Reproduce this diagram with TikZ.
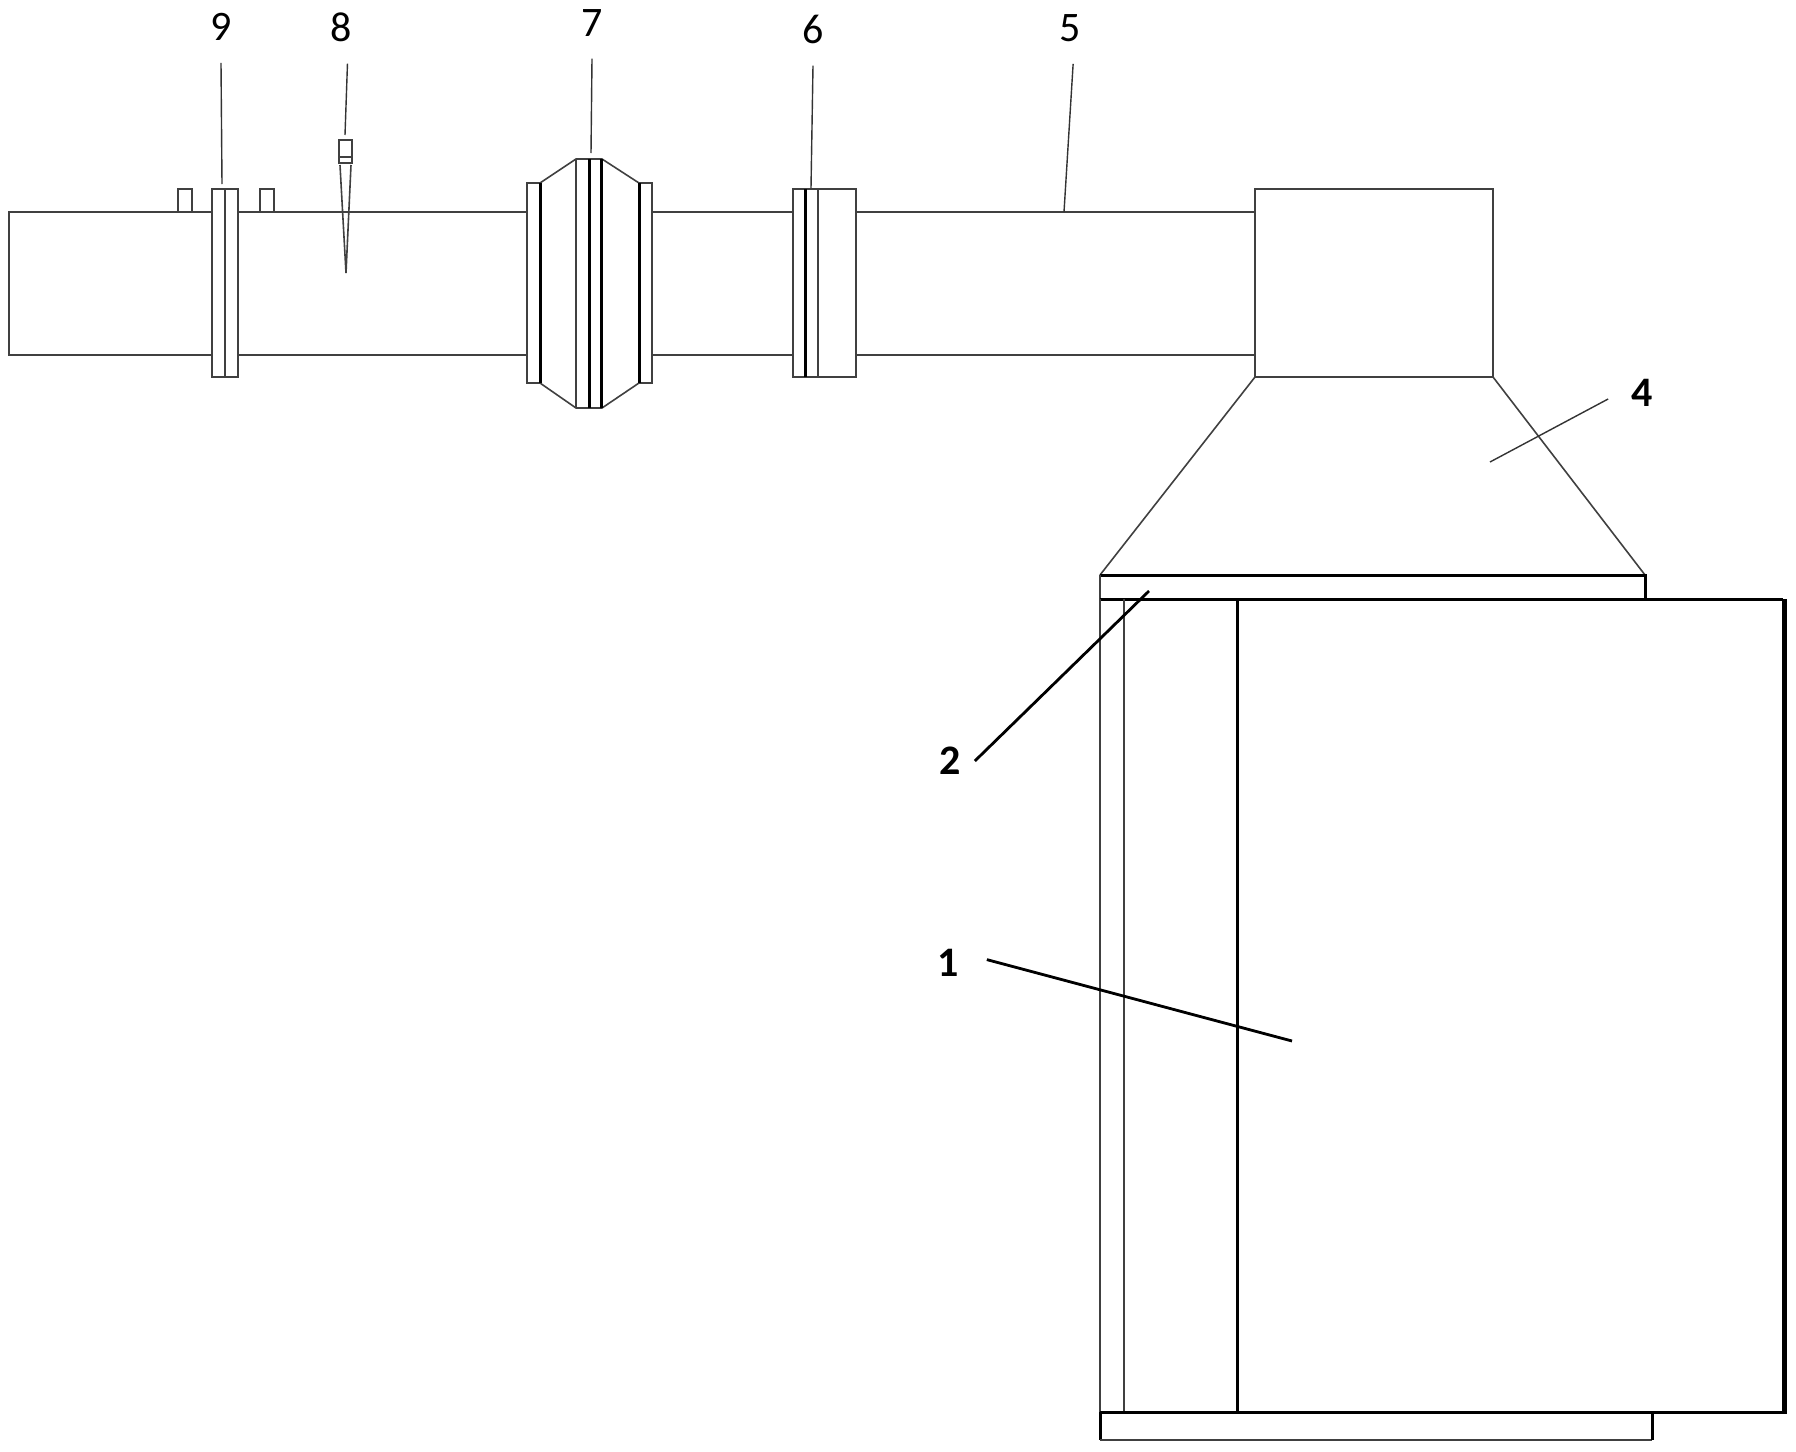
\documentclass[tikz,border=0pt]{standalone}
\usepackage{fontspec}
\setmainfont{Carlito}
\usetikzlibrary{positioning}
\tikzset{
  part/.style={line width=1.6pt,draw=black!75},
  heavy/.style={line width=3pt},
  lead/.style={line width=1.4pt,draw=black!80},
  leadheavy/.style={line width=2.8pt},
  lab/.style={font=\fontsize{42}{42}\selectfont, inner xsep=14pt, inner ysep=22pt},
  labbold/.style={lab,font=\fontsize{42}{42}\selectfont\bfseries}
}
\begin{document}
\begin{tikzpicture}[x=1pt,y=-1pt]
    \useasboundingbox (0,0) rectangle (1796,1451);

    % the pipe
    \draw[part] (1255,212) -- (9,212) -- (9,355) -- (1255,355);

    % flange 9 and the two lugs
    \draw[part,fill=white] (178,212) rectangle (192,189);
    \draw[part,fill=white] (260,212) rectangle (274,189);
    \draw[part,fill=white] (212,189) rectangle (238,377);
    \draw[part] (225,189) -- (225,377);

    % sensor 8
    \draw[part] (339,140) rectangle (352,163);
    \draw[part] (339,157) -- (352,157);
    \draw[part] (340,165) -- (346,273) -- (351,165);

    % coupling 7
    \draw[part,fill=white] (527,183) rectangle (652,383);
    \draw[part,fill=white] (540,183) -- (576,159) -- (602,159) -- (639,183)
      -- (639,383) -- (602,408) -- (576,408) -- (540,383) -- cycle;
    \draw[heavy] (540,183) -- (540,383);
    \draw[heavy] (639,183) -- (639,383);
    \draw[part] (576,159) -- (576,408);
    \draw[heavy] (589,159) -- (589,408);
    \draw[heavy] (601,159) -- (601,408);

    % flange 6
    \draw[part,fill=white] (793,189) rectangle (856,377);
    \draw[heavy] (805,189) -- (805,377);
    \draw[part] (818,189) -- (818,377);

    % box and hood
    \draw[part,fill=white] (1255,189) rectangle (1493,377);
    \draw[part] (1255,377) -- (1100,575);
    \draw[part] (1493,377) -- (1645,575);

    % the body
    \draw[heavy] (1100,575) -- (1645,575) -- (1645,599);
    \draw[part] (1100,575) -- (1100,599);
    \draw[heavy] (1100,599) -- (1783,599);
    \draw[part] (1100,599) -- (1100,1412);
    \draw[part] (1124,599) -- (1124,1412);
    \draw[heavy] (1237,599) -- (1237,1412);
    \draw[line width=5pt] (1784.5,599) -- (1784.5,1414);
    \draw[heavy] (1100,1412) -- (1784,1412);
    \draw[heavy] (1100,1412) -- (1100,1440);
    \draw[part] (1100,1440) -- (1652,1440);
    \draw[heavy] (1652,1412) -- (1652,1440);

    % the labels and their leaders
    \node[lab] (lab9) at (221,27) {9};
    \node[lab] (lab8) at (341,27) {8};
    \node[lab] (lab7) at (592,23) {7};
    \node[lab] (lab6) at (813,29) {6};
    \node[lab] (lab5) at (1070,28) {5};
    \node[labbold,inner xsep=23pt] (lab4) at (1642,393) {4};
    \node[labbold] (lab2) at (950,761) {2};
    \node[labbold,inner xsep=28pt] (lab1) at (948,963) {1};

    \coordinate (tip9) at (222,184);
    \coordinate (tip8) at (345,135);
    \coordinate (tip7) at (591,153);
    \coordinate (tip6) at (811,188);
    \coordinate (tip5) at (1064,212);
    \coordinate (tip4) at (1490,462);
    \coordinate (tip2) at (1149,591);
    \coordinate (tip1) at (1292,1041);

    \draw[lead] (lab9.south) -- (tip9);
    \draw[lead] (lab8.-80) -- (tip8);
    \draw[lead] (lab7.south) -- (tip7);
    \draw[lead] (lab6.south) -- (tip6);
    \draw[lead] (lab5.-85) -- (tip5);
    \draw[lead] (lab4.190) -- (tip4);
    \draw[leadheavy] (lab2.east) -- (tip2);
    \draw[leadheavy] (lab1.5) -- (tip1);
\end{tikzpicture}
\end{document}
